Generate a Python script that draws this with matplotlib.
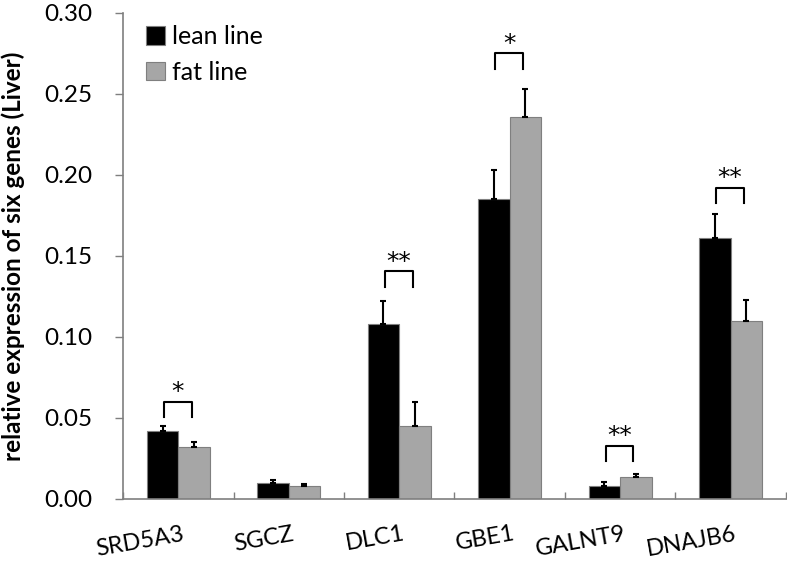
import matplotlib
matplotlib.use("Agg")
import matplotlib.pyplot as plt
import matplotlib.transforms as mtransforms
import numpy as np

genes = ["SRD5A3", "SGCZ", "DLC1", "GBE1", "GALNT9", "DNAJB6"]
lean = [0.042, 0.010, 0.108, 0.185, 0.008, 0.161]
lean_err = [0.003, 0.002, 0.014, 0.018, 0.0025, 0.015]
fat = [0.032, 0.008, 0.045, 0.236, 0.0136, 0.110]
fat_err = [0.003, 0.0015, 0.015, 0.017, 0.002, 0.013]
sig_labels = ["*", "", "**", "*", "**", "**"]
sig_heights = [0.060, None, 0.1405, 0.275, 0.033, 0.192]
yticks = [0.00, 0.05, 0.10, 0.15, 0.20, 0.25, 0.30]

plt.rcParams['font.family'] = ['Lato', 'DejaVu Sans']

fig = plt.figure(figsize=(7.87, 5.62), dpi=100)
ax = fig.add_axes([0.1563, 0.1121, 0.8424, 0.8648])

x = np.arange(len(genes))
w = 0.285
edge = '#7f7f7f'
ax.bar(x - w/2, lean, w, color='black', edgecolor=edge, linewidth=0.8, label='lean line', zorder=2)
ax.bar(x + w/2, fat, w, color='#a6a6a6', edgecolor=edge, linewidth=0.8, label='fat line', zorder=2)
ax.errorbar(x - w/2, lean, yerr=[np.zeros(len(lean)), lean_err], fmt='none', ecolor='black',
            elinewidth=1.5, capsize=2.5, capthick=1.5, zorder=3)
ax.errorbar(x + w/2, fat, yerr=[np.zeros(len(fat)), fat_err], fmt='none', ecolor='black',
            elinewidth=1.5, capsize=2.5, capthick=1.5, zorder=3)

drop = 0.0095
for i, (lab, h) in enumerate(zip(sig_labels, sig_heights)):
    if not lab:
        continue
    x0, x1 = i - 0.13, i + 0.12
    ax.plot([x0, x0, x1, x1], [h - drop, h, h, h - drop], color='black', lw=1.5, zorder=3)
    ax.text((x0 + x1) / 2, h - 0.0015, lab, ha='center', va='bottom', fontsize=18, family='DejaVu Sans')

ax.set_xlim(-0.5, len(genes) - 0.5)
ax.set_ylim(0, 0.30)
ax.set_yticks(yticks)
ax.set_yticklabels([f"{v:.2f}" for v in yticks], fontsize=17.5)
ax.set_xticks(np.arange(len(genes) + 1) - 0.5)
ax.set_xticklabels([])
ax.tick_params(axis='x', direction='in', length=5, color=edge, width=1)
ax.tick_params(axis='y', direction='out', length=6, color=edge, width=1, pad=16)

trans = mtransforms.blended_transform_factory(ax.transData, ax.transAxes)
for i, g in enumerate(genes):
    ax.text(i + 0.03, -0.05, g, rotation=10, ha='right', va='top', fontsize=17,
            transform=trans, rotation_mode='anchor')

for s in ['top', 'right']:
    ax.spines[s].set_visible(False)
for s in ['left', 'bottom']:
    ax.spines[s].set_color(edge)
    ax.spines[s].set_linewidth(1.2)

ax.set_ylabel("relative expression of six genes (Liver)", fontsize=17.5, fontweight='bold')
ax.yaxis.set_label_coords(-0.148, 0.5)

leg = ax.legend(loc='upper left', bbox_to_anchor=(0.035, 0.975), frameon=False, fontsize=18,
                borderaxespad=0, borderpad=0,
                handlelength=0.75, handleheight=0.75, handletextpad=0.3, labelspacing=0.5)

fig.savefig("out.png", dpi=100)
